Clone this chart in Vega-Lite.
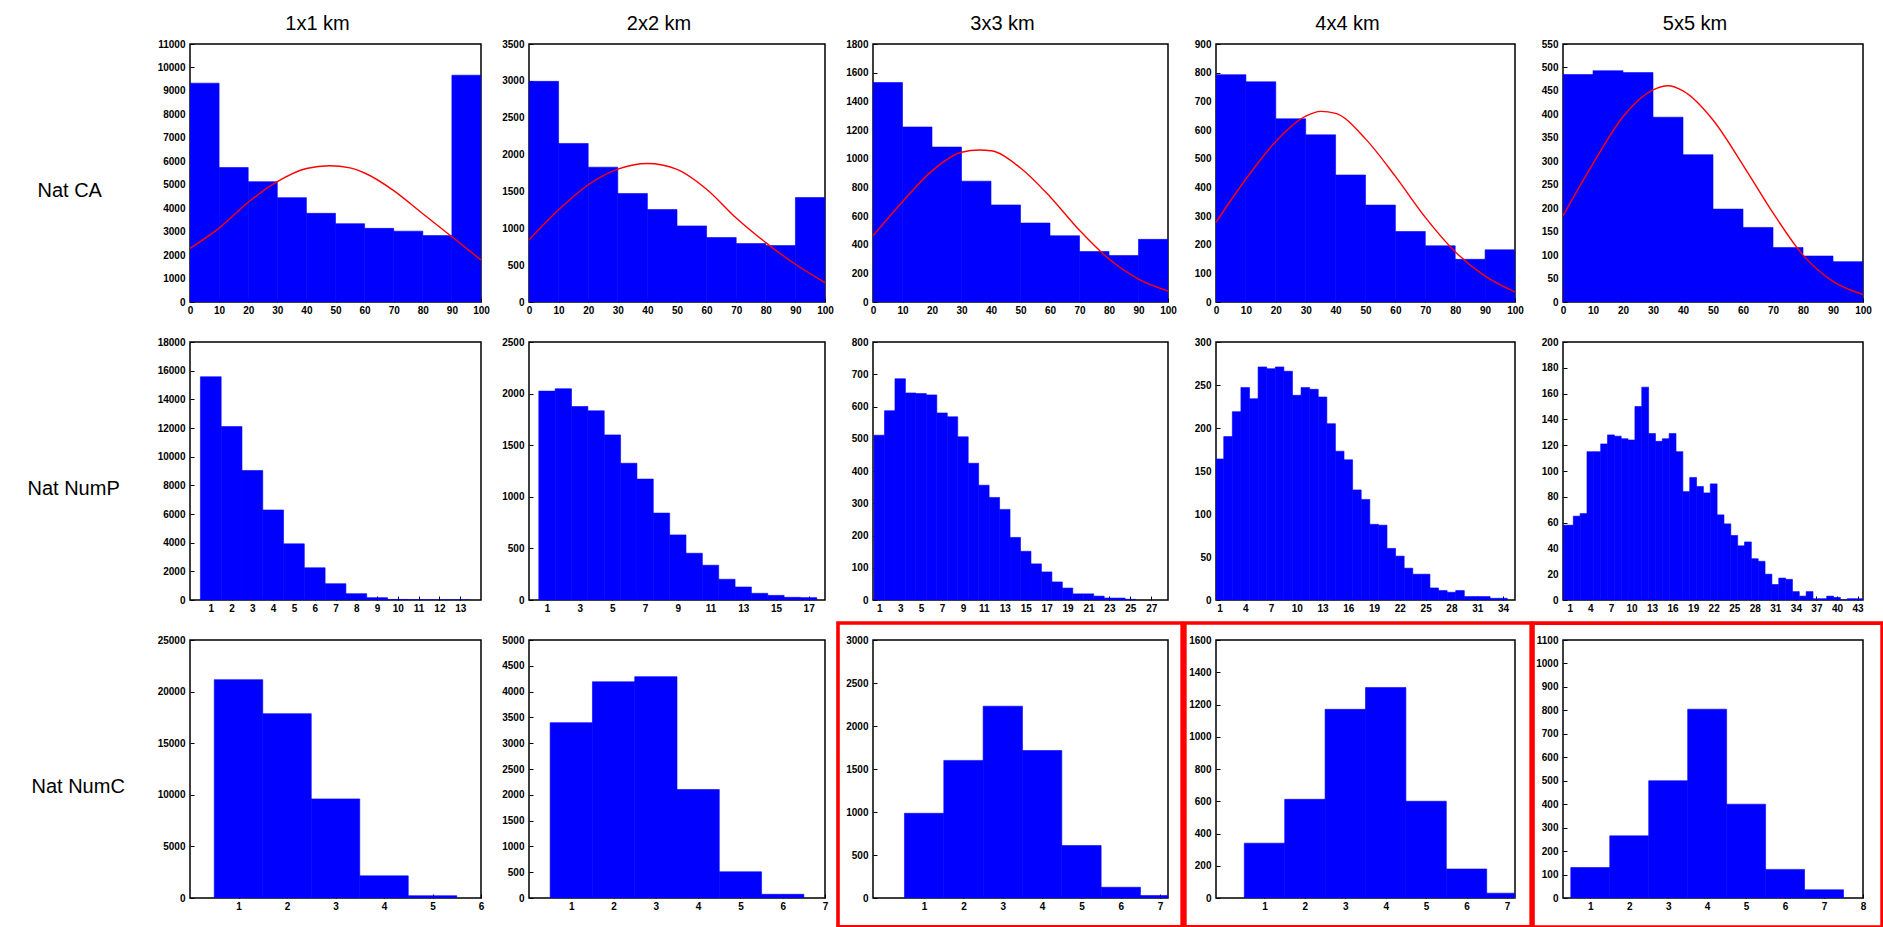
{
"$schema": "https://vega.github.io/schema/vega-lite/v6.json",
"background": "white",
"padding": {"left": 26, "top": 13, "right": 0, "bottom": 0},
"autosize": {"type": "pad"},
"columns": 5,
"spacing": {"row": 40, "column": 48},
"bounds": "flush",
"datasets": {
"bars": [
{"p":"CA1","a":0,"b":10,"n":9330},{"p":"CA1","a":10,"b":20,"n":5735},{"p":"CA1","a":20,"b":30,"n":5130},{"p":"CA1","a":30,"b":40,"n":4450},{"p":"CA1","a":40,"b":50,"n":3780},{"p":"CA1","a":50,"b":60,"n":3340},{"p":"CA1","a":60,"b":70,"n":3140},{"p":"CA1","a":70,"b":80,"n":3020},{"p":"CA1","a":80,"b":90,"n":2830},{"p":"CA1","a":90,"b":100,"n":9670},
{"p":"CA2","a":0,"b":10,"n":2993},{"p":"CA2","a":10,"b":20,"n":2151},{"p":"CA2","a":20,"b":30,"n":1829},{"p":"CA2","a":30,"b":40,"n":1471},{"p":"CA2","a":40,"b":50,"n":1254},{"p":"CA2","a":50,"b":60,"n":1032},{"p":"CA2","a":60,"b":70,"n":874},{"p":"CA2","a":70,"b":80,"n":792},{"p":"CA2","a":80,"b":90,"n":765},{"p":"CA2","a":90,"b":100,"n":1417},
{"p":"CA3","a":0,"b":10,"n":1531},{"p":"CA3","a":10,"b":20,"n":1221},{"p":"CA3","a":20,"b":30,"n":1081},{"p":"CA3","a":30,"b":40,"n":843},{"p":"CA3","a":40,"b":50,"n":677},{"p":"CA3","a":50,"b":60,"n":551},{"p":"CA3","a":60,"b":70,"n":462},{"p":"CA3","a":70,"b":80,"n":352},{"p":"CA3","a":80,"b":90,"n":324},{"p":"CA3","a":90,"b":100,"n":437},
{"p":"CA4","a":0,"b":10,"n":793},{"p":"CA4","a":10,"b":20,"n":768},{"p":"CA4","a":20,"b":30,"n":639},{"p":"CA4","a":30,"b":40,"n":583},{"p":"CA4","a":40,"b":50,"n":443},{"p":"CA4","a":50,"b":60,"n":338},{"p":"CA4","a":60,"b":70,"n":246},{"p":"CA4","a":70,"b":80,"n":196},{"p":"CA4","a":80,"b":90,"n":149},{"p":"CA4","a":90,"b":100,"n":182},
{"p":"CA5","a":0,"b":10,"n":485},{"p":"CA5","a":10,"b":20,"n":493},{"p":"CA5","a":20,"b":30,"n":489},{"p":"CA5","a":30,"b":40,"n":394},{"p":"CA5","a":40,"b":50,"n":314},{"p":"CA5","a":50,"b":60,"n":198},{"p":"CA5","a":60,"b":70,"n":159},{"p":"CA5","a":70,"b":80,"n":116},{"p":"CA5","a":80,"b":90,"n":98},{"p":"CA5","a":90,"b":100,"n":86},
{"p":"P1","a":0.5,"b":1.5,"n":15574},{"p":"P1","a":1.5,"b":2.5,"n":12097},{"p":"P1","a":2.5,"b":3.5,"n":9038},{"p":"P1","a":3.5,"b":4.5,"n":6280},{"p":"P1","a":4.5,"b":5.5,"n":3916},{"p":"P1","a":5.5,"b":6.5,"n":2248},{"p":"P1","a":6.5,"b":7.5,"n":1136},{"p":"P1","a":7.5,"b":8.5,"n":440},{"p":"P1","a":8.5,"b":9.5,"n":162},{"p":"P1","a":9.5,"b":10.5,"n":40},{"p":"P1","a":10.5,"b":11.5,"n":12},{"p":"P1","a":11.5,"b":12.5,"n":5},{"p":"P1","a":12.5,"b":13.5,"n":2},
{"p":"P2","a":0.5,"b":1.5,"n":2024},{"p":"P2","a":1.5,"b":2.5,"n":2047},{"p":"P2","a":2.5,"b":3.5,"n":1875},{"p":"P2","a":3.5,"b":4.5,"n":1833},{"p":"P2","a":4.5,"b":5.5,"n":1600},{"p":"P2","a":5.5,"b":6.5,"n":1325},{"p":"P2","a":6.5,"b":7.5,"n":1172},{"p":"P2","a":7.5,"b":8.5,"n":842},{"p":"P2","a":8.5,"b":9.5,"n":631},{"p":"P2","a":9.5,"b":10.5,"n":453},{"p":"P2","a":10.5,"b":11.5,"n":337},{"p":"P2","a":11.5,"b":12.5,"n":201},{"p":"P2","a":12.5,"b":13.5,"n":126},{"p":"P2","a":13.5,"b":14.5,"n":65},{"p":"P2","a":14.5,"b":15.5,"n":45},{"p":"P2","a":15.5,"b":16.5,"n":26},{"p":"P2","a":16.5,"b":17.5,"n":23},
{"p":"P3","a":0.5,"b":1.5,"n":511},{"p":"P3","a":1.5,"b":2.5,"n":587},{"p":"P3","a":2.5,"b":3.5,"n":686},{"p":"P3","a":3.5,"b":4.5,"n":642},{"p":"P3","a":4.5,"b":5.5,"n":640},{"p":"P3","a":5.5,"b":6.5,"n":636},{"p":"P3","a":6.5,"b":7.5,"n":580},{"p":"P3","a":7.5,"b":8.5,"n":568},{"p":"P3","a":8.5,"b":9.5,"n":506},{"p":"P3","a":9.5,"b":10.5,"n":424},{"p":"P3","a":10.5,"b":11.5,"n":356},{"p":"P3","a":11.5,"b":12.5,"n":318},{"p":"P3","a":12.5,"b":13.5,"n":281},{"p":"P3","a":13.5,"b":14.5,"n":194},{"p":"P3","a":14.5,"b":15.5,"n":151},{"p":"P3","a":15.5,"b":16.5,"n":112},{"p":"P3","a":16.5,"b":17.5,"n":87},{"p":"P3","a":17.5,"b":18.5,"n":56},{"p":"P3","a":18.5,"b":19.5,"n":37},{"p":"P3","a":19.5,"b":20.5,"n":19},{"p":"P3","a":20.5,"b":21.5,"n":19},{"p":"P3","a":21.5,"b":22.5,"n":12},{"p":"P3","a":22.5,"b":23.5,"n":6},{"p":"P3","a":23.5,"b":24.5,"n":6},{"p":"P3","a":24.5,"b":25.5,"n":2},
{"p":"P4","a":0.5,"b":1.5,"n":164},{"p":"P4","a":1.5,"b":2.5,"n":190},{"p":"P4","a":2.5,"b":3.5,"n":219},{"p":"P4","a":3.5,"b":4.5,"n":247},{"p":"P4","a":4.5,"b":5.5,"n":234},{"p":"P4","a":5.5,"b":6.5,"n":271},{"p":"P4","a":6.5,"b":7.5,"n":269},{"p":"P4","a":7.5,"b":8.5,"n":271},{"p":"P4","a":8.5,"b":9.5,"n":266},{"p":"P4","a":9.5,"b":10.5,"n":238},{"p":"P4","a":10.5,"b":11.5,"n":247},{"p":"P4","a":11.5,"b":12.5,"n":245},{"p":"P4","a":12.5,"b":13.5,"n":236},{"p":"P4","a":13.5,"b":14.5,"n":205},{"p":"P4","a":14.5,"b":15.5,"n":173},{"p":"P4","a":15.5,"b":16.5,"n":163},{"p":"P4","a":16.5,"b":17.5,"n":128},{"p":"P4","a":17.5,"b":18.5,"n":117},{"p":"P4","a":18.5,"b":19.5,"n":88},{"p":"P4","a":19.5,"b":20.5,"n":87},{"p":"P4","a":20.5,"b":21.5,"n":60},{"p":"P4","a":21.5,"b":22.5,"n":51},{"p":"P4","a":22.5,"b":23.5,"n":37},{"p":"P4","a":23.5,"b":24.5,"n":30},{"p":"P4","a":24.5,"b":25.5,"n":30},{"p":"P4","a":25.5,"b":26.5,"n":14},{"p":"P4","a":26.5,"b":27.5,"n":11},{"p":"P4","a":27.5,"b":28.5,"n":9},{"p":"P4","a":28.5,"b":29.5,"n":11},{"p":"P4","a":29.5,"b":30.5,"n":4},{"p":"P4","a":30.5,"b":31.5,"n":4},{"p":"P4","a":31.5,"b":32.5,"n":4},{"p":"P4","a":32.5,"b":33.5,"n":2},{"p":"P4","a":33.5,"b":34.5,"n":2},
{"p":"P5","a":0,"b":1.5,"n":58},{"p":"P5","a":1.5,"b":2.5,"n":65},{"p":"P5","a":2.5,"b":3.5,"n":67},{"p":"P5","a":3.5,"b":4.5,"n":115},{"p":"P5","a":4.5,"b":5.5,"n":115},{"p":"P5","a":5.5,"b":6.5,"n":121},{"p":"P5","a":6.5,"b":7.5,"n":128},{"p":"P5","a":7.5,"b":8.5,"n":127},{"p":"P5","a":8.5,"b":9.5,"n":125},{"p":"P5","a":9.5,"b":10.5,"n":124},{"p":"P5","a":10.5,"b":11.5,"n":150},{"p":"P5","a":11.5,"b":12.5,"n":165},{"p":"P5","a":12.5,"b":13.5,"n":129},{"p":"P5","a":13.5,"b":14.5,"n":123},{"p":"P5","a":14.5,"b":15.5,"n":125},{"p":"P5","a":15.5,"b":16.5,"n":129},{"p":"P5","a":16.5,"b":17.5,"n":115},{"p":"P5","a":17.5,"b":18.5,"n":84},{"p":"P5","a":18.5,"b":19.5,"n":95},{"p":"P5","a":19.5,"b":20.5,"n":88},{"p":"P5","a":20.5,"b":21.5,"n":83},{"p":"P5","a":21.5,"b":22.5,"n":90},{"p":"P5","a":22.5,"b":23.5,"n":66},{"p":"P5","a":23.5,"b":24.5,"n":59},{"p":"P5","a":24.5,"b":25.5,"n":50},{"p":"P5","a":25.5,"b":26.5,"n":42},{"p":"P5","a":26.5,"b":27.5,"n":45},{"p":"P5","a":27.5,"b":28.5,"n":32},{"p":"P5","a":28.5,"b":29.5,"n":30},{"p":"P5","a":29.5,"b":30.5,"n":20},{"p":"P5","a":30.5,"b":31.5,"n":12},{"p":"P5","a":31.5,"b":32.5,"n":17},{"p":"P5","a":32.5,"b":33.5,"n":16},{"p":"P5","a":33.5,"b":34.5,"n":6.5},{"p":"P5","a":34.5,"b":35.5,"n":3},{"p":"P5","a":35.5,"b":36.5,"n":6.5},{"p":"P5","a":36.5,"b":37.5,"n":1},{"p":"P5","a":37.5,"b":38.5,"n":1},{"p":"P5","a":38.5,"b":39.5,"n":3},{"p":"P5","a":39.5,"b":40.5,"n":2},{"p":"P5","a":40.5,"b":41.5,"n":0},{"p":"P5","a":41.5,"b":42.5,"n":1},{"p":"P5","a":42.5,"b":43.8,"n":1},
{"p":"C1","a":0.5,"b":1.5,"n":21159},{"p":"C1","a":1.5,"b":2.5,"n":17862},{"p":"C1","a":2.5,"b":3.5,"n":9603},{"p":"C1","a":3.5,"b":4.5,"n":2145},{"p":"C1","a":4.5,"b":5.5,"n":224},
{"p":"C2","a":0.5,"b":1.5,"n":3398},{"p":"C2","a":1.5,"b":2.5,"n":4190},{"p":"C2","a":2.5,"b":3.5,"n":4290},{"p":"C2","a":3.5,"b":4.5,"n":2103},{"p":"C2","a":4.5,"b":5.5,"n":508},{"p":"C2","a":5.5,"b":6.5,"n":72},
{"p":"C3","a":0.5,"b":1.5,"n":985},{"p":"C3","a":1.5,"b":2.5,"n":1600},{"p":"C3","a":2.5,"b":3.5,"n":2230},{"p":"C3","a":3.5,"b":4.5,"n":1715},{"p":"C3","a":4.5,"b":5.5,"n":610},{"p":"C3","a":5.5,"b":6.5,"n":125},{"p":"C3","a":6.5,"b":7.5,"n":28},
{"p":"C4","a":0.5,"b":1.5,"n":340},{"p":"C4","a":1.5,"b":2.5,"n":612},{"p":"C4","a":2.5,"b":3.5,"n":1170},{"p":"C4","a":3.5,"b":4.5,"n":1305},{"p":"C4","a":4.5,"b":5.5,"n":600},{"p":"C4","a":5.5,"b":6.5,"n":180},{"p":"C4","a":6.5,"b":7.5,"n":30},
{"p":"C5","a":0.5,"b":1.5,"n":130},{"p":"C5","a":1.5,"b":2.5,"n":265},{"p":"C5","a":2.5,"b":3.5,"n":500},{"p":"C5","a":3.5,"b":4.5,"n":805},{"p":"C5","a":4.5,"b":5.5,"n":400},{"p":"C5","a":5.5,"b":6.5,"n":122},{"p":"C5","a":6.5,"b":7.5,"n":35}
],
"curves": [
{"p":"CA1","x":0,"y":2290},{"p":"CA1","x":10,"y":3150},{"p":"CA1","x":20,"y":4250},{"p":"CA1","x":30,"y":5130},{"p":"CA1","x":40,"y":5690},{"p":"CA1","x":48,"y":5810},{"p":"CA1","x":55,"y":5720},{"p":"CA1","x":60,"y":5500},{"p":"CA1","x":70,"y":4750},{"p":"CA1","x":80,"y":3760},{"p":"CA1","x":90,"y":2780},{"p":"CA1","x":100,"y":1790},
{"p":"CA2","x":0,"y":842},{"p":"CA2","x":10,"y":1250},{"p":"CA2","x":20,"y":1590},{"p":"CA2","x":30,"y":1802},{"p":"CA2","x":40,"y":1879},{"p":"CA2","x":50,"y":1800},{"p":"CA2","x":60,"y":1530},{"p":"CA2","x":70,"y":1140},{"p":"CA2","x":80,"y":806},{"p":"CA2","x":90,"y":512},{"p":"CA2","x":100,"y":263},
{"p":"CA3","x":0,"y":462},{"p":"CA3","x":10,"y":700},{"p":"CA3","x":20,"y":915},{"p":"CA3","x":30,"y":1045},{"p":"CA3","x":36,"y":1060},{"p":"CA3","x":40,"y":1055},{"p":"CA3","x":50,"y":935},{"p":"CA3","x":60,"y":735},{"p":"CA3","x":70,"y":500},{"p":"CA3","x":80,"y":300},{"p":"CA3","x":90,"y":160},{"p":"CA3","x":100,"y":77},
{"p":"CA4","x":0,"y":278},{"p":"CA4","x":10,"y":429},{"p":"CA4","x":20,"y":560},{"p":"CA4","x":30,"y":648},{"p":"CA4","x":35,"y":665},{"p":"CA4","x":40,"y":658},{"p":"CA4","x":50,"y":569},{"p":"CA4","x":60,"y":438},{"p":"CA4","x":70,"y":295},{"p":"CA4","x":80,"y":175},{"p":"CA4","x":90,"y":90},{"p":"CA4","x":100,"y":35},
{"p":"CA5","x":0,"y":184},{"p":"CA5","x":10,"y":295},{"p":"CA5","x":20,"y":395},{"p":"CA5","x":30,"y":452},{"p":"CA5","x":35,"y":461},{"p":"CA5","x":40,"y":450},{"p":"CA5","x":50,"y":388},{"p":"CA5","x":60,"y":292},{"p":"CA5","x":70,"y":190},{"p":"CA5","x":80,"y":100},{"p":"CA5","x":90,"y":44},{"p":"CA5","x":100,"y":16}
]
},
"concat": [
{"width":291,"height":258,"title":{"text":"1x1 km"},"layer":[
 {"data":{"name":"bars"},"transform":[{"filter":"datum.p==='CA1'"}],"mark":{"type":"bar","color":"#0000ff","stroke":"#0000ff","strokeWidth":0.6,"clip":true},
  "encoding":{"x":{"field":"a","type":"quantitative","title":null,"scale":{"domain":[0,100],"nice":false,"zero":false},"axis":{"values":[0,10,20,30,40,50,60,70,80,90,100],"tickCount":100,"format":"d","labelOverlap":false}},"x2":{"field":"b"},
  "y":{"field":"n","type":"quantitative","title":"Nat CA","scale":{"domain":[0,11000],"nice":false},"axis":{"values":[0,1000,2000,3000,4000,5000,6000,7000,8000,9000,10000,11000],"tickCount":100,"format":"d","labelOverlap":false,"titleAngle":0,"titleAlign":"left","titleBaseline":"middle","titleX":-153,"titleY":146}},"y2":{"datum":0}}},
 {"data":{"name":"curves"},"transform":[{"filter":"datum.p==='CA1'"}],"mark":{"type":"line","color":"#ff0000","strokeWidth":1.4,"interpolate":"monotone","clip":true},
  "encoding":{"x":{"field":"x","type":"quantitative","title":null},"y":{"field":"y","type":"quantitative","title":"Nat CA"}}}]},
{"width":296,"height":258,"title":{"text":"2x2 km"},"layer":[
 {"data":{"name":"bars"},"transform":[{"filter":"datum.p==='CA2'"}],"mark":{"type":"bar","color":"#0000ff","stroke":"#0000ff","strokeWidth":0.6,"clip":true},
  "encoding":{"x":{"field":"a","type":"quantitative","title":null,"scale":{"domain":[0,100],"nice":false,"zero":false},"axis":{"values":[0,10,20,30,40,50,60,70,80,90,100],"tickCount":100,"format":"d","labelOverlap":false}},"x2":{"field":"b"},
  "y":{"field":"n","type":"quantitative","title":null,"scale":{"domain":[0,3500],"nice":false},"axis":{"values":[0,500,1000,1500,2000,2500,3000,3500],"tickCount":100,"format":"d","labelOverlap":false}},"y2":{"datum":0}}},
 {"data":{"name":"curves"},"transform":[{"filter":"datum.p==='CA2'"}],"mark":{"type":"line","color":"#ff0000","strokeWidth":1.4,"interpolate":"monotone","clip":true},
  "encoding":{"x":{"field":"x","type":"quantitative","title":null},"y":{"field":"y","type":"quantitative","title":null}}}]},
{"width":295,"height":258,"title":{"text":"3x3 km"},"layer":[
 {"data":{"name":"bars"},"transform":[{"filter":"datum.p==='CA3'"}],"mark":{"type":"bar","color":"#0000ff","stroke":"#0000ff","strokeWidth":0.6,"clip":true},
  "encoding":{"x":{"field":"a","type":"quantitative","title":null,"scale":{"domain":[0,100],"nice":false,"zero":false},"axis":{"values":[0,10,20,30,40,50,60,70,80,90,100],"tickCount":100,"format":"d","labelOverlap":false}},"x2":{"field":"b"},
  "y":{"field":"n","type":"quantitative","title":null,"scale":{"domain":[0,1800],"nice":false},"axis":{"values":[0,200,400,600,800,1000,1200,1400,1600,1800],"tickCount":100,"format":"d","labelOverlap":false}},"y2":{"datum":0}}},
 {"data":{"name":"curves"},"transform":[{"filter":"datum.p==='CA3'"}],"mark":{"type":"line","color":"#ff0000","strokeWidth":1.4,"interpolate":"monotone","clip":true},
  "encoding":{"x":{"field":"x","type":"quantitative","title":null},"y":{"field":"y","type":"quantitative","title":null}}}]},
{"width":299,"height":258,"title":{"text":"4x4 km"},"layer":[
 {"data":{"name":"bars"},"transform":[{"filter":"datum.p==='CA4'"}],"mark":{"type":"bar","color":"#0000ff","stroke":"#0000ff","strokeWidth":0.6,"clip":true},
  "encoding":{"x":{"field":"a","type":"quantitative","title":null,"scale":{"domain":[0,100],"nice":false,"zero":false},"axis":{"values":[0,10,20,30,40,50,60,70,80,90,100],"tickCount":100,"format":"d","labelOverlap":false}},"x2":{"field":"b"},
  "y":{"field":"n","type":"quantitative","title":null,"scale":{"domain":[0,900],"nice":false},"axis":{"values":[0,100,200,300,400,500,600,700,800,900],"tickCount":100,"format":"d","labelOverlap":false}},"y2":{"datum":0}}},
 {"data":{"name":"curves"},"transform":[{"filter":"datum.p==='CA4'"}],"mark":{"type":"line","color":"#ff0000","strokeWidth":1.4,"interpolate":"monotone","clip":true},
  "encoding":{"x":{"field":"x","type":"quantitative","title":null},"y":{"field":"y","type":"quantitative","title":null}}}]},
{"width":300,"height":258,"title":{"text":"5x5 km"},"layer":[
 {"data":{"name":"bars"},"transform":[{"filter":"datum.p==='CA5'"}],"mark":{"type":"bar","color":"#0000ff","stroke":"#0000ff","strokeWidth":0.6,"clip":true},
  "encoding":{"x":{"field":"a","type":"quantitative","title":null,"scale":{"domain":[0,100],"nice":false,"zero":false},"axis":{"values":[0,10,20,30,40,50,60,70,80,90,100],"tickCount":100,"format":"d","labelOverlap":false}},"x2":{"field":"b"},
  "y":{"field":"n","type":"quantitative","title":null,"scale":{"domain":[0,550],"nice":false},"axis":{"values":[0,50,100,150,200,250,300,350,400,450,500,550],"tickCount":100,"format":"d","labelOverlap":false}},"y2":{"datum":0}}},
 {"data":{"name":"curves"},"transform":[{"filter":"datum.p==='CA5'"}],"mark":{"type":"line","color":"#ff0000","strokeWidth":1.4,"interpolate":"monotone","clip":true},
  "encoding":{"x":{"field":"x","type":"quantitative","title":null},"y":{"field":"y","type":"quantitative","title":null}}}]},

{"width":291,"height":258,"data":{"name":"bars"},"transform":[{"filter":"datum.p==='P1'"}],"mark":{"type":"bar","color":"#0000ff","stroke":"#0000ff","strokeWidth":0.6,"clip":true},
  "encoding":{"x":{"field":"a","type":"quantitative","title":null,"scale":{"domain":[0,14],"nice":false,"zero":false},"axis":{"values":[1,2,3,4,5,6,7,8,9,10,11,12,13],"format":"d","labelOverlap":false}},"x2":{"field":"b"},
  "y":{"field":"n","type":"quantitative","title":"Nat NumP","scale":{"domain":[0,18000],"nice":false},"axis":{"values":[0,2000,4000,6000,8000,10000,12000,14000,16000,18000],"format":"d","labelOverlap":false,"titleAngle":0,"titleAlign":"left","titleBaseline":"middle","titleX":-163,"titleY":146}},"y2":{"datum":0}}},
{"width":296,"height":258,"data":{"name":"bars"},"transform":[{"filter":"datum.p==='P2'"}],"mark":{"type":"bar","color":"#0000ff","stroke":"#0000ff","strokeWidth":0.6,"clip":true},
  "encoding":{"x":{"field":"a","type":"quantitative","title":null,"scale":{"domain":[-0.1,18],"nice":false,"zero":false},"axis":{"values":[1,3,5,7,9,11,13,15,17],"format":"d","labelOverlap":false}},"x2":{"field":"b"},
  "y":{"field":"n","type":"quantitative","title":null,"scale":{"domain":[0,2500],"nice":false},"axis":{"values":[0,500,1000,1500,2000,2500],"format":"d","labelOverlap":false}},"y2":{"datum":0}}},
{"width":295,"height":258,"data":{"name":"bars"},"transform":[{"filter":"datum.p==='P3'"}],"mark":{"type":"bar","color":"#0000ff","stroke":"#0000ff","strokeWidth":0.6,"clip":true},
  "encoding":{"x":{"field":"a","type":"quantitative","title":null,"scale":{"domain":[0.4,28.6],"nice":false,"zero":false},"axis":{"values":[1,3,5,7,9,11,13,15,17,19,21,23,25,27],"format":"d","labelOverlap":false}},"x2":{"field":"b"},
  "y":{"field":"n","type":"quantitative","title":null,"scale":{"domain":[0,800],"nice":false},"axis":{"values":[0,100,200,300,400,500,600,700,800],"format":"d","labelOverlap":false}},"y2":{"datum":0}}},
{"width":299,"height":258,"data":{"name":"bars"},"transform":[{"filter":"datum.p==='P4'"}],"mark":{"type":"bar","color":"#0000ff","stroke":"#0000ff","strokeWidth":0.6,"clip":true},
  "encoding":{"x":{"field":"a","type":"quantitative","title":null,"scale":{"domain":[0.6,35.4],"nice":false,"zero":false},"axis":{"values":[1,4,7,10,13,16,19,22,25,28,31,34],"format":"d","labelOverlap":false}},"x2":{"field":"b"},
  "y":{"field":"n","type":"quantitative","title":null,"scale":{"domain":[0,300],"nice":false},"axis":{"values":[0,50,100,150,200,250,300],"format":"d","labelOverlap":false}},"y2":{"datum":0}}},
{"width":300,"height":258,"data":{"name":"bars"},"transform":[{"filter":"datum.p==='P5'"}],"mark":{"type":"bar","color":"#0000ff","stroke":"#0000ff","strokeWidth":0.6,"clip":true},
  "encoding":{"x":{"field":"a","type":"quantitative","title":null,"scale":{"domain":[0,43.8],"nice":false,"zero":false},"axis":{"values":[1,4,7,10,13,16,19,22,25,28,31,34,37,40,43],"format":"d","labelOverlap":false}},"x2":{"field":"b"},
  "y":{"field":"n","type":"quantitative","title":null,"scale":{"domain":[0,200],"nice":false},"axis":{"values":[0,20,40,60,80,100,120,140,160,180,200],"format":"d","labelOverlap":false}},"y2":{"datum":0}}},

{"width":291,"height":258,"data":{"name":"bars"},"transform":[{"filter":"datum.p==='C1'"}],"mark":{"type":"bar","color":"#0000ff","stroke":"#0000ff","strokeWidth":0.6,"clip":true},
  "encoding":{"x":{"field":"a","type":"quantitative","title":null,"scale":{"domain":[0,6],"nice":false,"zero":false},"axis":{"values":[1,2,3,4,5,6],"format":"d","labelOverlap":false}},"x2":{"field":"b"},
  "y":{"field":"n","type":"quantitative","title":"Nat NumC","scale":{"domain":[0,25000],"nice":false},"axis":{"values":[0,5000,10000,15000,20000,25000],"format":"d","labelOverlap":false,"titleAngle":0,"titleAlign":"left","titleBaseline":"middle","titleX":-159,"titleY":146}},"y2":{"datum":0}}},
{"width":296,"height":258,"data":{"name":"bars"},"transform":[{"filter":"datum.p==='C2'"}],"mark":{"type":"bar","color":"#0000ff","stroke":"#0000ff","strokeWidth":0.6,"clip":true},
  "encoding":{"x":{"field":"a","type":"quantitative","title":null,"scale":{"domain":[0,7],"nice":false,"zero":false},"axis":{"values":[1,2,3,4,5,6,7],"format":"d","labelOverlap":false}},"x2":{"field":"b"},
  "y":{"field":"n","type":"quantitative","title":null,"scale":{"domain":[0,5000],"nice":false},"axis":{"values":[0,500,1000,1500,2000,2500,3000,3500,4000,4500,5000],"format":"d","labelOverlap":false}},"y2":{"datum":0}}},
{"width":295,"height":258,"layer":[
 {"data":{"name":"bars"},"transform":[{"filter":"datum.p==='C3'"}],"mark":{"type":"bar","color":"#0000ff","stroke":"#0000ff","strokeWidth":0.6,"clip":true},
  "encoding":{"x":{"field":"a","type":"quantitative","title":null,"scale":{"domain":[-0.3,7.2],"nice":false,"zero":false},"axis":{"values":[1,2,3,4,5,6,7],"tickCount":100,"format":"d","labelOverlap":false}},"x2":{"field":"b"},
  "y":{"field":"n","type":"quantitative","title":null,"scale":{"domain":[0,3000],"nice":false},"axis":{"values":[0,500,1000,1500,2000,2500,3000],"tickCount":100,"format":"d","labelOverlap":false}},"y2":{"datum":0}}},
 {"data":{"values":[{}]},"mark":{"type":"rect","fill":"transparent","stroke":"#ff0000","strokeWidth":3.6,"clip":false},
  "encoding":{"x":{"datum":-1.19,"type":"quantitative","title":null},"x2":{"datum":7.56},"y":{"datum":3198,"type":"quantitative","title":null},"y2":{"datum":-335}}}]},
{"width":299,"height":258,"layer":[
 {"data":{"name":"bars"},"transform":[{"filter":"datum.p==='C4'"}],"mark":{"type":"bar","color":"#0000ff","stroke":"#0000ff","strokeWidth":0.6,"clip":true},
  "encoding":{"x":{"field":"a","type":"quantitative","title":null,"scale":{"domain":[-0.2,7.2],"nice":false,"zero":false},"axis":{"values":[1,2,3,4,5,6,7],"tickCount":100,"format":"d","labelOverlap":false}},"x2":{"field":"b"},
  "y":{"field":"n","type":"quantitative","title":null,"scale":{"domain":[0,1600],"nice":false},"axis":{"values":[0,200,400,600,800,1000,1200,1400,1600],"tickCount":100,"format":"d","labelOverlap":false}},"y2":{"datum":0}}},
 {"data":{"values":[{}]},"mark":{"type":"rect","fill":"transparent","stroke":"#ff0000","strokeWidth":3.6,"clip":false},
  "encoding":{"x":{"datum":-0.97,"type":"quantitative","title":null},"x2":{"datum":7.6},"y":{"datum":1705,"type":"quantitative","title":null},"y2":{"datum":-179}}}]},
{"width":300,"height":258,"layer":[
 {"data":{"name":"bars"},"transform":[{"filter":"datum.p==='C5'"}],"mark":{"type":"bar","color":"#0000ff","stroke":"#0000ff","strokeWidth":0.6,"clip":true},
  "encoding":{"x":{"field":"a","type":"quantitative","title":null,"scale":{"domain":[0.3,8],"nice":false,"zero":false},"axis":{"values":[1,2,3,4,5,6,7,8],"tickCount":100,"format":"d","labelOverlap":false}},"x2":{"field":"b"},
  "y":{"field":"n","type":"quantitative","title":null,"scale":{"domain":[0,1100],"nice":false},"axis":{"values":[0,100,200,300,400,500,600,700,800,900,1000,1100],"tickCount":100,"format":"d","labelOverlap":false}},"y2":{"datum":0}}},
 {"data":{"values":[{}]},"mark":{"type":"rect","fill":"transparent","stroke":"#ff0000","strokeWidth":3.6,"clip":false},
  "encoding":{"x":{"datum":-0.47,"type":"quantitative","title":null},"x2":{"datum":8.49},"y":{"datum":1172,"type":"quantitative","title":null},"y2":{"datum":-124}}}]}
],
"config": {
 "font": "Liberation Sans",
 "view": {"stroke": "#000000", "strokeWidth": 1.5, "fill": "white"},
 "axis": {"grid": false, "domain": false, "ticks": true, "tickSize": -4, "tickColor": "#000000", "tickWidth": 1, "labelFont": "Liberation Sans", "labelFontSize": 10, "labelFontWeight": "bold", "labelColor": "#000000", "labelFlush": false, "labelOverlap": false, "titleFont": "Liberation Sans", "titleFontSize": 20, "titleFontWeight": "normal", "titleColor": "#000000"},
 "axisX": {"labelPadding": 7},
 "axisY": {"labelPadding": 9},
 "title": {"font": "Liberation Sans", "fontSize": 20, "fontWeight": "normal", "color": "#000000", "anchor": "middle", "offset": 5, "dx": -18}
}
}
